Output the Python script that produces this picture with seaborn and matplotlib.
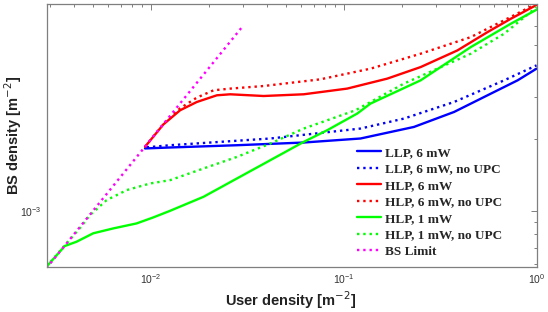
import numpy as np
import pandas as pd
import matplotlib
matplotlib.use("Agg")
import matplotlib.pyplot as plt
import seaborn as sns
from matplotlib.ticker import LogLocator, NullFormatter
from matplotlib.font_manager import FontProperties

# ---- data ----
llp_x = [0.00931, 0.01256, 0.02791, 0.06194, 0.1221, 0.2312, 0.3733, 0.5568, 0.7975, 1.0]
llp_y = [1.83e-3, 1.847e-3, 1.888e-3, 1.938e-3, 2.015e-3, 2.254e-3, 2.606e-3, 3.063e-3, 3.541e-3, 3.965e-3]

llp_nu_x = [0.0095, 0.01256, 0.04157, 0.1221, 0.2051, 0.3733, 0.6792, 1.0]
llp_nu_y = [1.85e-3, 1.888e-3, 2.015e-3, 2.219e-3, 2.444e-3, 2.871e-3, 3.541e-3, 4.094e-3]

hlp6_x = [0.00931, 0.01159, 0.01415, 0.01729, 0.02196, 0.02575, 0.03837, 0.06194, 0.1041,
          0.1681, 0.2505, 0.3888, 0.5568, 0.7362, 1.0]
hlp6_y = [1.86e-3, 2.31e-3, 2.649e-3, 2.871e-3, 3.063e-3, 3.093e-3, 3.042e-3, 3.093e-3, 3.268e-3,
          3.6e-3, 4.027e-3, 4.733e-3, 5.651e-3, 6.433e-3, 7.35e-3]

hlp6_nu_x = [0.00931, 0.01159, 0.01415, 0.01729, 0.02111, 0.02575, 0.03837, 0.07564, 0.1376,
             0.2505, 0.456, 0.7362, 1.0]
hlp6_nu_y = [1.86e-3, 2.32e-3, 2.70e-3, 2.996e-3, 3.215e-3, 3.268e-3, 3.351e-3, 3.576e-3, 3.965e-3,
             4.584e-3, 5.384e-3, 6.55e-3, 7.45e-3]

hlp1_x = [0.002868, 0.003571, 0.004108, 0.005012, 0.006368, 0.008425, 0.01028, 0.01256, 0.01871,
          0.02791, 0.04157, 0.06194, 0.082, 0.1174, 0.1376, 0.2505, 0.456, 0.7362, 1.0]
hlp1_y = [5.815e-4, 7.11e-4, 7.41e-4, 8.04e-4, 8.43e-4, 8.85e-4, 9.38e-4, 1.0e-3, 1.145e-3,
          1.368e-3, 1.633e-3, 1.95e-3, 2.183e-3, 2.566e-3, 2.827e-3, 3.541e-3, 4.888e-3, 6.131e-3, 7.02e-3]

hlp1_nu_x = [0.002868, 0.00435, 0.004818, 0.005884, 0.007475, 0.00988, 0.01256, 0.01871, 0.02791,
             0.04157, 0.06194, 0.115, 0.2051, 0.456, 0.6792, 1.0]
hlp1_nu_y = [5.815e-4, 8.6e-4, 9.59e-4, 1.109e-3, 1.222e-3, 1.303e-3, 1.346e-3, 1.507e-3, 1.686e-3,
             1.919e-3, 2.219e-3, 2.649e-3, 3.43e-3, 4.584e-3, 5.564e-3, 7.195e-3]

bs_x = [0.00287, 0.0301]
bs_y = [5.74e-4, 6.02e-3]

series = [
    ("LLP, 6 mW", llp_x, llp_y, "#0000ff", "-"),
    ("LLP, 6 mW, no UPC", llp_nu_x, llp_nu_y, "#0000ff", ":"),
    ("HLP, 6 mW", hlp6_x, hlp6_y, "#ff0000", "-"),
    ("HLP, 6 mW, no UPC", hlp6_nu_x, hlp6_nu_y, "#ff0000", ":"),
    ("HLP, 1 mW", hlp1_x, hlp1_y, "#00ff00", "-"),
    ("HLP, 1 mW, no UPC", hlp1_nu_x, hlp1_nu_y, "#00ff00", ":"),
    ("BS Limit", bs_x, bs_y, "#ff00ff", ":"),
]

sns.set_style("white")
plt.rcParams['font.family'] = ['Liberation Sans', 'DejaVu Sans']

fig = plt.figure(figsize=(5.48, 3.12), dpi=100)
ax = fig.add_axes([0.0849, 0.1442, 0.8942, 0.8430])

for name, xs, ys, col, ls in series:
    df = pd.DataFrame({"x": xs, "y": ys})
    sns.lineplot(data=df, x="x", y="y", ax=ax, color=col, linestyle=ls,
                 linewidth=1.7, sort=False, label=name, estimator=None)

ax.set_xscale("log")
ax.set_yscale("log")
ax.set_xlim(0.00287, 1.0)
ax.set_ylim(5.8e-4, 7.42e-3)

gray = "#7f7f7f"
for sp in ax.spines.values():
    sp.set_visible(True)
    sp.set_color(gray)
    sp.set_linewidth(0.9)

ax.xaxis.set_major_locator(LogLocator(base=10, numticks=10))
ax.xaxis.set_minor_locator(LogLocator(base=10, subs=np.arange(2, 10), numticks=20))
ax.yaxis.set_major_locator(LogLocator(base=10, numticks=10))
ax.yaxis.set_minor_locator(LogLocator(base=10, subs=np.arange(2, 10), numticks=20))
ax.xaxis.set_minor_formatter(NullFormatter())
ax.yaxis.set_minor_formatter(NullFormatter())
ax.tick_params(which="both", direction="in", top=True, right=True, color=gray,
               labelcolor="#333333", labelsize=7.5, width=0.7)
ax.tick_params(which="major", length=4)
ax.tick_params(which="minor", length=2.5)

ax.set_xlabel("User density [m$^{-2}$]", fontsize=10.5, fontweight="bold", color="#222222")
ax.set_ylabel("BS density [m$^{-2}$]", fontsize=10.5, fontweight="bold", color="#222222")
ax.xaxis.set_label_coords(0.499, -0.083)
ax.yaxis.set_label_coords(-0.046, 0.5)

leg = ax.legend(loc="lower left", bbox_to_anchor=(0.615, 0.0), frameon=False,
                prop=FontProperties(family="Liberation Serif", weight="bold", size=9.5),
                handlelength=1.8, handletextpad=0.3, labelspacing=0.32, borderaxespad=0.3)

fig.savefig("out.png", dpi=100)
